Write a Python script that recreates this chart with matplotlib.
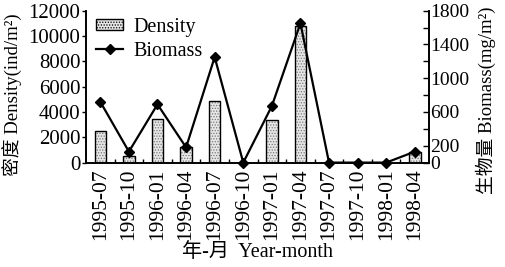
import matplotlib
matplotlib.use("Agg")
from matplotlib import pyplot as plt
from matplotlib.ticker import FixedLocator, FuncFormatter
from matplotlib.lines import Line2D
from matplotlib.patches import Patch
import numpy as np

plt.rcParams["font.family"] = ["Liberation Serif", "Noto Sans CJK SC"]
plt.rcParams["hatch.linewidth"] = 0.6

# data
months = ["1995-07", "1995-10", "1996-01", "1996-04", "1996-07", "1996-10",
          "1997-01", "1997-04", "1997-07", "1997-10", "1998-01", "1998-04"]
density = [2500, 500, 3450, 1200, 4900, 0, 3350, 10800, 0, 0, 0, 850]
biomass = [720, 130, 690, 180, 1250, 0, 670, 1650, 0, 0, 0, 130]

fig = plt.figure(figsize=(5.06, 2.67), dpi=100)
ax = fig.add_axes([0.170, 0.391, 0.678, 0.569])
ax2 = ax.twinx()

x = np.arange(len(months))
# stippled bars: grey dotted fill, then black outline on top
ax.bar(x, density, width=0.4, color="#e6e6e6", edgecolor="#777777",
       hatch="......", linewidth=0, zorder=2)
ax.bar(x, density, width=0.4, fill=False, edgecolor="black",
       linewidth=1.0, zorder=3)

ax2.plot(x, biomass, color="black", lw=1.6, marker="D", ms=5,
         clip_on=False, zorder=4)

ax.set_xlim(-0.5, 11.5)
ax.set_ylim(0, 12000)
ax2.set_ylim(0, 1800)

ax.set_yticks(np.arange(0, 12001, 2000))
ax.tick_params(axis="y", direction="out", length=3, width=1, labelsize=15, pad=1)

ax.set_xticks(x)
ax.set_xticklabels(months, rotation=90, fontsize=15.5)
ax.set_xticks(np.arange(0.5, 11, 1), minor=True)
ax.tick_params(axis="x", which="major", length=0, pad=4)
ax.tick_params(axis="x", which="minor", direction="in", length=3, width=1)

right_ticks = list(range(0, 1801, 200))
shown = {0, 200, 600, 1000, 1400, 1800}
ax2.yaxis.set_major_locator(FixedLocator(right_ticks))
ax2.yaxis.set_major_formatter(FuncFormatter(lambda v, p: f"{int(v)}" if int(v) in shown else ""))
ax2.tick_params(axis="y", direction="in", length=4, width=1, labelsize=14, pad=1)

for a in (ax, ax2):
    a.spines["top"].set_visible(False)
    for s in ("left", "right", "bottom"):
        a.spines[s].set_linewidth(1.2)

ax.set_ylabel("密度 Density(ind/m²)", fontsize=13.5)
ax.yaxis.set_label_coords(-0.183, 0.45)
ax2.set_ylabel("生物量 Biomass(mg/m²)", fontsize=13.5, rotation=90)
ax2.yaxis.set_label_coords(1.137, 0.41)
ax.set_xlabel("年-月  Year-month", fontsize=14.5, labelpad=2)

handles = [
    Patch(facecolor="#e6e6e6", edgecolor="black", hatch="......", lw=1),
    Line2D([], [], color="black", lw=1.6, marker="D", ms=5),
]
ax2.legend(handles, ["Density", "Biomass"], loc="upper left", frameon=False,
           fontsize=14.5, handlelength=1.35, handleheight=0.5, labelspacing=0.25,
           borderaxespad=0.1, handletextpad=0.5, bbox_to_anchor=(0.0, 1.02))

fig.savefig("out.png", dpi=100)
